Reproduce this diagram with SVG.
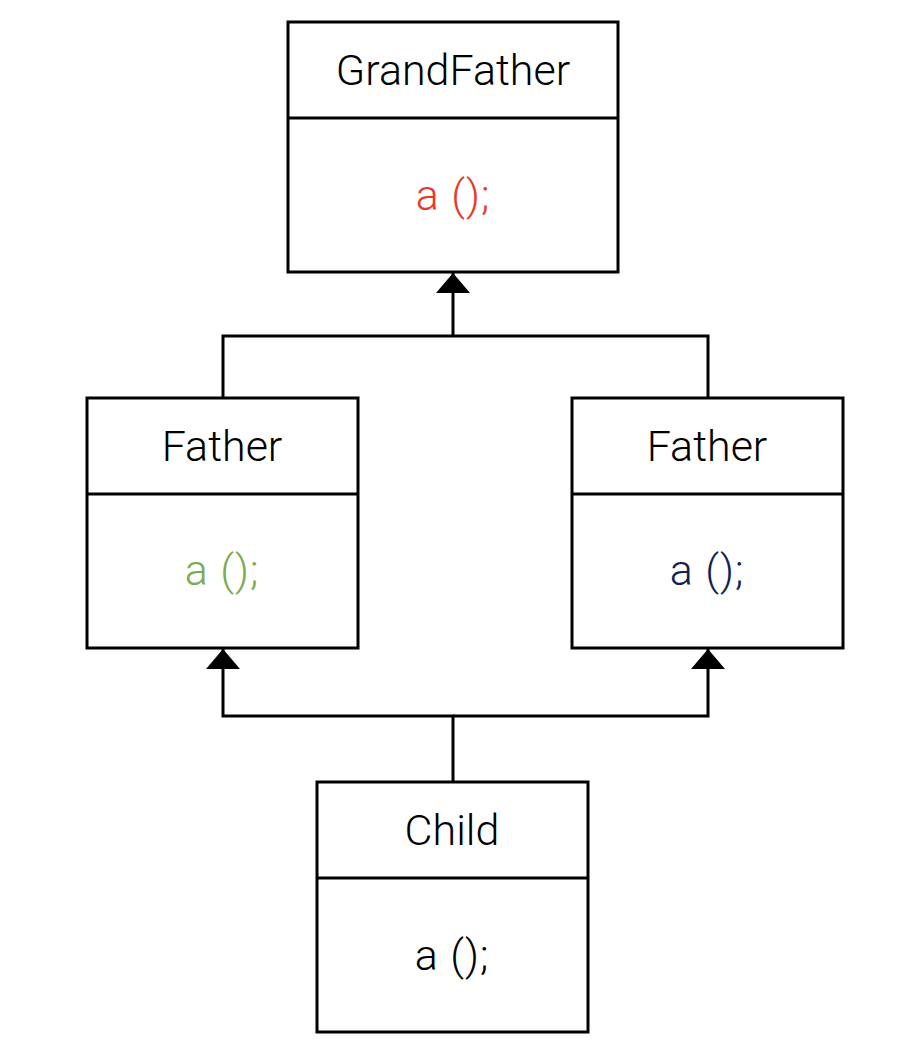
<svg xmlns="http://www.w3.org/2000/svg" width="916" height="1064" viewBox="0 0 916 1064">
<style>
.box{fill:#fff;stroke:#000;stroke-width:3}
.div{stroke:#000;stroke-width:3}
.t{font-family:Roboto,"Liberation Sans",sans-serif;font-size:43px;font-weight:300;text-anchor:middle;fill:#000}
.m{font-family:Roboto,"Liberation Sans",sans-serif;font-size:43px;font-weight:300;text-anchor:middle;letter-spacing:1px}
.conn{fill:none;stroke:#000;stroke-width:3}
</style>
<defs>
<marker id="tri" markerUnits="userSpaceOnUse" markerWidth="22" markerHeight="34" refX="20" refY="17" orient="auto">
<path d="M0,0 L20,17 L0,34 Z" fill="#000"/>
</marker>
</defs>
<rect width="916" height="1064" fill="#fff"/>
<g id="connectors">
<path class="conn" d="M223,398 V336 H708 V398"/>
<path class="conn" d="M453,336 V273" marker-end="url(#tri)"/>
<path class="conn" d="M453,782 V716 H223 V649" marker-end="url(#tri)"/>
<path class="conn" d="M453,716 H708 V649" marker-end="url(#tri)"/>
</g>
<g id="grandfather">
<rect class="box" x="288" y="22" width="330" height="250"/>
<line class="div" x1="288" y1="118" x2="618" y2="118"/>
<text class="t" x="453" y="85">GrandFather</text>
<text class="m" x="453" y="210" fill="#E8392A">a ();</text>
</g>
<g id="father-left">
<rect class="box" x="87" y="398" width="271" height="250"/>
<line class="div" x1="87" y1="494" x2="358" y2="494"/>
<text class="t" x="222" y="461">Father</text>
<text class="m" x="222" y="585" fill="#7AAB55">a ();</text>
</g>
<g id="father-right">
<rect class="box" x="572" y="398" width="271" height="250"/>
<line class="div" x1="572" y1="494" x2="843" y2="494"/>
<text class="t" x="707" y="461">Father</text>
<text class="m" x="707" y="585" fill="#0F2157">a ();</text>
</g>
<g id="child">
<rect class="box" x="317" y="782" width="271" height="250"/>
<line class="div" x1="317" y1="878" x2="588" y2="878"/>
<text class="t" x="452" y="845">Child</text>
<text class="m" x="452" y="970" fill="#000">a ();</text>
</g>
</svg>
